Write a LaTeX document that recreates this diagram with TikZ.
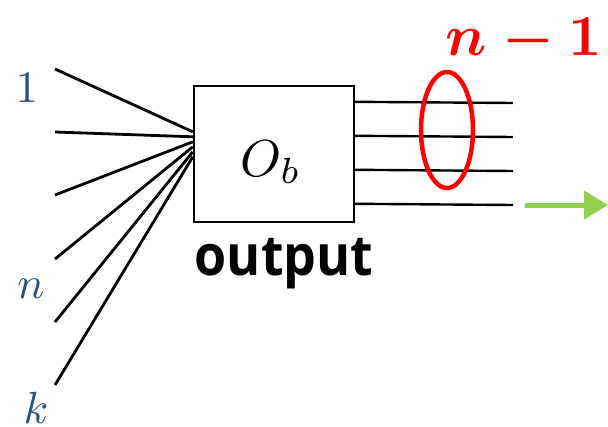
\documentclass[tikz,border=0pt]{standalone}
\usepackage{fontspec}
\newfontfamily\outfont{Open Sans}
\usetikzlibrary{arrows.meta,calc,shapes.geometric}
\definecolor{lblue}{RGB}{40,80,130}
\definecolor{agreen}{RGB}{146,208,80}
\begin{document}
\begin{tikzpicture}[x=1pt,y=-1pt,
  wire/.style={line width=2.8pt,black},
  owire/.style={line width=2.4pt,black},
  lbl/.style={text=lblue,scale=4.5,inner sep=0pt,anchor=base}]
\useasboundingbox (0,0) rectangle (608,426);
\node[draw,line width=2.4pt,minimum width=160pt,minimum height=136pt,inner sep=0pt] (ob) at (274,154) {};
\node[anchor=base,inner sep=0pt,scale=5.2] (obl) at (271,176) {$O_b$};
\node[anchor=base,inner sep=0pt,font=\outfont\bfseries\fontsize{52}{58}\selectfont,yscale=1.08] (out) at (284,275) {output};
% inputs
\node[lbl] (l1) at (27,102) {$1$};
\node[lbl] (ln) at (31,298) {$n$};
\node[lbl] (lk) at (36,423) {$k$};
\foreach \i/\y/\o in {1/69/47,2/132/52,3/195/57,4/259/62,5/322/67,6/385/72}{
  \coordinate (i\i) at (55,\y);
  \coordinate (e\i) at ($(ob.north west)+(0,\o)$);
  \draw[wire] (i\i) -- (e\i);
}
% outputs
\foreach \i/\o in {1/17,2/51,3/85,4/119}{
  \coordinate (s\i) at ($(ob.north east)+(0,\o)$);
  \coordinate (t\i) at (513,{86+\o});
  \draw[owire] (s\i) -- (t\i);
}
\node[draw=red,line width=4.5pt,ellipse,minimum width=52pt,minimum height=116pt,inner sep=0pt] (ell) at (447,130) {};
\node[anchor=base,inner sep=0pt,text=red,font=\boldmath,scale=5.8] (nm1) at (524,55) {$n-1$};
\coordinate (a1) at (525,205);
\coordinate (a2) at (608,205);
\draw[agreen,line width=5pt,-{Triangle[length=24pt,width=28pt]}] (a1) -- (a2);
\end{tikzpicture}
\end{document}
